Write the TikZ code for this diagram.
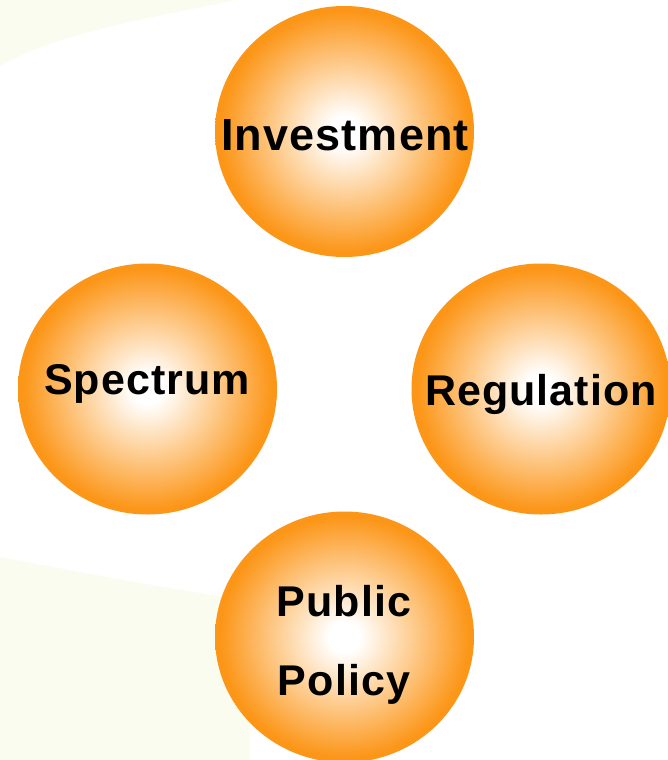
\documentclass[tikz,border=0pt]{standalone}
\usepackage{fontspec}
\setmainfont{Liberation Sans}[LetterSpace=2.5]
\usetikzlibrary{shapes.geometric}

\definecolor{ballorange}{RGB}{252,150,24}
\definecolor{paleback}{RGB}{250,252,239}
\pgfdeclareradialshading{ballshade}{\pgfpoint{0bp}{0bp}}{color(0bp)=(white); color(3bp)=(white); color(24bp)=(ballorange); color(50bp)=(ballorange)}

\tikzset{
  ball/.style={ellipse, minimum width=259pt, minimum height=251pt, inner sep=0pt, shading=ballshade},
  balltext/.style={anchor=base, inner sep=0pt, font=\fontsize{43}{79}\selectfont\bfseries, align=center}
}

\begin{document}
\begin{tikzpicture}[x=1pt, y=-1pt]
        \useasboundingbox (0,0) rectangle (667,760);
        \fill[white] (0,0) rectangle (667,760);
        % pale swooshes behind
        \fill[paleback] (0,0) -- (236,0) .. controls (150,18) and (60,32) .. (0,66) -- cycle;
        \fill[paleback] (0,557) .. controls (80,572) and (170,590) .. (250,600) -- (250,760) -- (0,760) -- cycle;
        % the four balls
        \node[ball] (inv) at (344.5,131.5) {};
        \node[ball] (spec) at (147.5,389) {};
        \node[ball] (reg) at (541,389) {};
        \node[ball] (pub) at (344.5,637) {};
        \node[balltext, font=\fontsize{45}{50}\selectfont\bfseries] (invtext) at (345,150) {Investment};
        \node[balltext] (spectext) at (147,394) {Spectrum};
        \node[balltext] (regtext) at (541,405) {Regulation};
        \node[balltext, anchor=center] (pubtext) at (344,645) {Public\\Policy};
      \end{tikzpicture}
\end{document}
